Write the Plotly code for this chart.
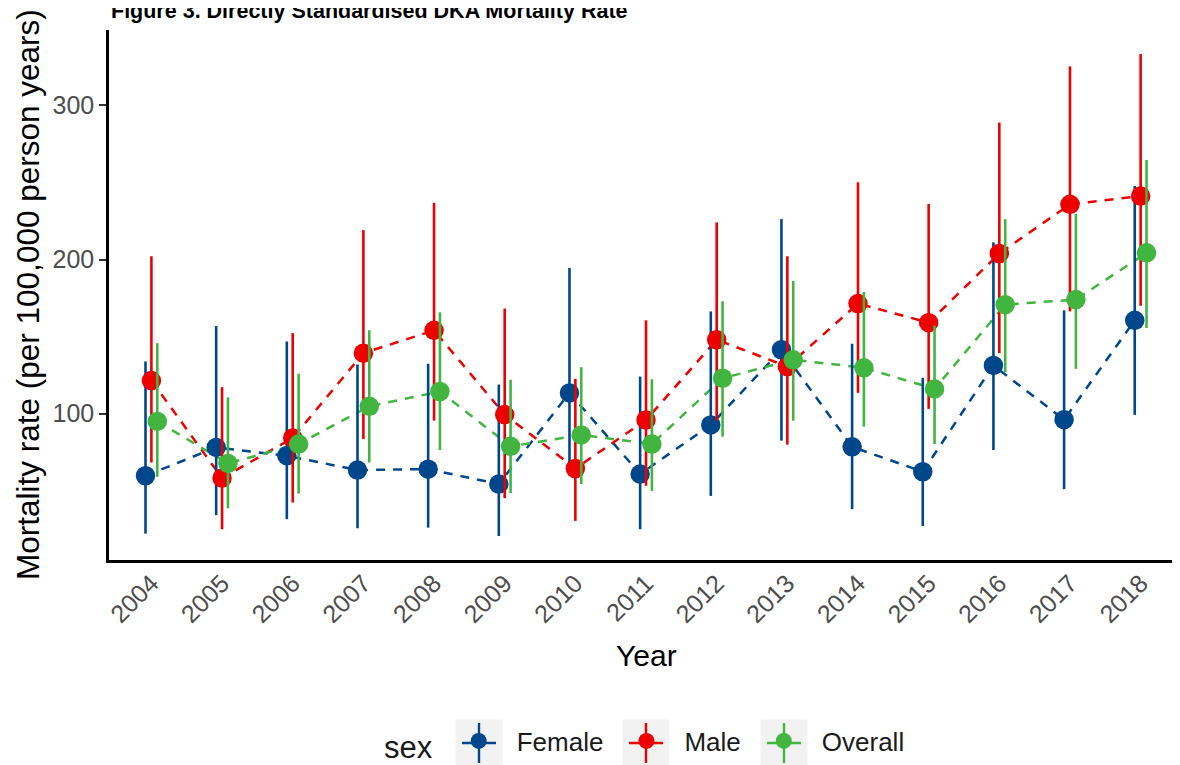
import plotly.graph_objects as go

years = [2004, 2005, 2006, 2007, 2008, 2009, 2010, 2011, 2012, 2013, 2014, 2015, 2016, 2017, 2018]

female_rate = [59.6, 78.0, 72.6, 63.3, 63.9, 54.2, 113.4, 60.7, 92.6, 141.4, 78.4, 62.2, 131.2, 96.0, 160.5]
female_lower = [22.0, 34.0, 31.4, 25.5, 25.9, 20.5, 60.0, 24.9, 46.5, 82.4, 37.9, 27.0, 76.3, 50.9, 99.1]
female_upper = [133.8, 156.8, 146.8, 131.8, 132.3, 118.8, 194.5, 124.0, 166.3, 226.2, 145.3, 123.2, 211.1, 167.0, 247.7]

male_rate = [121.4, 58.1, 84.1, 139.2, 154.0, 99.3, 64.3, 95.8, 147.9, 130.5, 171.4, 159.0, 203.9, 235.8, 241.2]
male_lower = [68.2, 24.9, 42.2, 83.5, 95.4, 45.0, 30.3, 53.1, 95.4, 79.8, 113.4, 103.0, 139.2, 166.3, 170.0]
male_upper = [202.1, 117.1, 152.2, 219.1, 236.8, 168.1, 122.5, 160.5, 224.1, 202.1, 250.1, 236.0, 288.9, 325.4, 333.4]

overall_rate = [94.9, 67.6, 80.2, 104.7, 114.3, 78.7, 86.1, 80.2, 122.9, 134.9, 129.7, 116.0, 170.7, 174.0, 204.3]
overall_lower = [58.9, 38.5, 48.0, 68.2, 76.3, 48.4, 54.2, 49.8, 85.0, 95.4, 91.5, 80.2, 126.8, 129.0, 155.5]
overall_upper = [145.7, 110.5, 125.8, 154.0, 165.7, 121.9, 130.1, 122.3, 172.9, 186.1, 178.9, 157.0, 226.2, 229.5, 264.6]

y_ticks = [100, 200, 300]

series = [
    ("Female", female_rate, female_lower, female_upper, "#00468B"),
    ("Male", male_rate, male_lower, male_upper, "#ED0000"),
    ("Overall", overall_rate, overall_lower, overall_upper, "#42B540"),
]

FONT = "Liberation Sans, Arial, sans-serif"
dodge_width = 0.25
n = len(series)

fig = go.Figure()

offsets = [(i - (n - 1) / 2) * dodge_width / n for i in range(n)]

# dashed lines
for (name, rate, lo, up, col), off in zip(series, offsets):
    fig.add_trace(go.Scatter(
        x=[y + off for y in years], y=rate, mode="lines",
        line=dict(color=col, width=2.5, dash="9px,8px"),
        showlegend=False, hoverinfo="skip", legendgroup=name,
    ))

# points with error bars
for (name, rate, lo, up, col), off in zip(series, offsets):
    fig.add_trace(go.Scatter(
        x=[y + off for y in years], y=rate, mode="markers", name=name,
        legendgroup=name,
        marker=dict(color=col, size=19.5, line=dict(width=0)),
        error_y=dict(type="data", symmetric=False,
                     array=[u - r for u, r in zip(up, rate)],
                     arrayminus=[r - l for r, l in zip(rate, lo)],
                     color=col, thickness=2.6, width=0),
    ))

# page is offset by the 8px body margin of the html page
PAGE_OFF = 8
W, H = 1180 - PAGE_OFF, 765 - PAGE_OFF
ML, MR, MT, MB = 109 - PAGE_OFF, 0, 30 - PAGE_OFF, 205
PW = W - ML - MR
PH = H - MT - MB

def px_x(p):
    return (p - PAGE_OFF - ML) / PW

def px_y(p):
    return (H - MB - (p - PAGE_OFF)) / PH

annotations = [
    dict(text="<b>Figure 3. Directly Standardised DKA Mortality Rate</b>",
         xref="paper", yref="paper", x=px_x(109), y=px_y(11),
         xanchor="left", yanchor="middle", showarrow=False,
         font=dict(family=FONT, size=21.5, color="#000000")),
    dict(text="Year", xref="paper", yref="paper", x=px_x(646), y=px_y(655),
         xanchor="center", yanchor="middle", showarrow=False,
         font=dict(family=FONT, size=30, color="#000000")),
    dict(text="Mortality rate (per 100,000 person years)", xref="paper", yref="paper",
         x=px_x(28), y=px_y(295), textangle=-90,
         xanchor="center", yanchor="middle", showarrow=False,
         font=dict(family=FONT, size=31.5, color="#000000")),
]

# legend key backgrounds (ggplot-style)
key_centers = [479, 646, 784]
key_y = 743
shapes = []
for c, (name, rate, lo, up, col) in zip(key_centers, series):
    shapes.append(dict(type="rect", xref="paper", yref="paper",
                       x0=px_x(c - 23.5), x1=px_x(c + 23.5),
                       y0=px_y(key_y + 23.5), y1=px_y(key_y - 23.5),
                       fillcolor="#F2F2F2", line=dict(width=0), layer="below"))
    shapes.append(dict(type="line", xref="paper", yref="paper",
                       x0=px_x(c - 17), x1=px_x(c + 17),
                       y0=px_y(key_y), y1=px_y(key_y),
                       line=dict(color=col, width=2.4), layer="below"))
    shapes.append(dict(type="line", xref="paper", yref="paper",
                       x0=px_x(c), x1=px_x(c),
                       y0=px_y(key_y + 20), y1=px_y(key_y - 20),
                       line=dict(color=col, width=2.4), layer="below"))

fig.update_layout(
    width=W, height=H,
    margin=dict(l=ML, r=MR, t=MT, b=MB, autoexpand=False),
    paper_bgcolor="white", plot_bgcolor="white",
    font=dict(family=FONT, color="#000000"),
    showlegend=True,
    legend=dict(orientation="h", x=px_x(382), xanchor="left",
                y=px_y(743), yanchor="middle",
                itemwidth=66,
                title=dict(text="sex", font=dict(size=31, color="#1A1A1A"), side="left"),
                font=dict(size=26, color="#1A1A1A"),
                bgcolor="rgba(0,0,0,0)", itemclick=False),
    annotations=annotations,
    shapes=shapes,
    xaxis=dict(range=[2003.4, 2018.557], tickmode="array", tickvals=years,
               ticktext=[str(y) for y in years], tickangle=-45,
               ticklabelstandoff=-4,
               showline=True, linecolor="#000000", linewidth=2.5,
               ticks="", showgrid=False, zeroline=False, automargin=False,
               tickfont=dict(family=FONT, size=25, color="#4D4D4D")),
    yaxis=dict(range=[4.9, 349.0], tickmode="array", tickvals=y_ticks,
               ticktext=[str(v) for v in y_ticks],
               showline=True, linecolor="#000000", linewidth=2.5,
               ticks="outside", ticklen=7, tickwidth=2, tickcolor="#333333",
               showgrid=False, zeroline=False, automargin=False,
               tickfont=dict(family=FONT, size=25, color="#4D4D4D")),
)

fig.write_html("out.html")
